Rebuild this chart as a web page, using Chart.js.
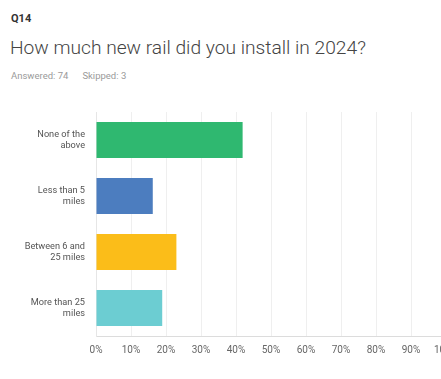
<!DOCTYPE html>
<html>
<head>
<meta charset="utf-8">
<script src="https://cdn.jsdelivr.net/npm/chart.js@4/dist/chart.umd.min.js"></script>
<style>
  html, body { margin: 0; padding: 0; background: #ffffff; overflow: hidden; width: 441px; height: 379px; }
  .q { position: absolute; left: 11px; top: 12px; font-family: Roboto, sans-serif; font-weight: 700; font-size: 11px; color: #333; }
  .title { position: absolute; left: 10px; top: 36px; font-family: Roboto, sans-serif; font-weight: 300; font-size: 19.2px; color: #444; white-space: nowrap; }
  .meta { position: absolute; left: 11px; top: 70px; font-family: Roboto, sans-serif; font-size: 9.5px; color: #9a9a9a; white-space: nowrap; }
  .meta span + span { margin-left: 14px; }
  #wrap { position: absolute; left: 0; top: 90px; width: 470px; height: 289px; }
</style>
</head>
<body>
<div class="q">Q14</div>
<div class="title">How much new rail did you install in 2024?</div>
<div class="meta"><span>Answered: 74</span><span>Skipped: 3</span></div>
<div id="wrap"><canvas id="c" width="470" height="289"></canvas></div>
<script>
const categories = [
  ["None of the", "above"],
  ["Less than 5", "miles"],
  ["Between 6 and", "25 miles"],
  ["More than 25", "miles"]
];
const percentValues = [41.89, 16.22, 22.97, 18.92];
const barColors = ["#2fb870", "#4c7dbf", "#fbbd19", "#6ccdd2"];
const xTicks = [0, 10, 20, 30, 40, 50, 60, 70, 80, 90, 100];

new Chart(document.getElementById("c"), {
  type: "bar",
  data: {
    labels: categories,
    datasets: [{
      data: percentValues,
      backgroundColor: barColors,
      borderWidth: 0,
      categoryPercentage: 0.8,
      barPercentage: 0.8
    }]
  },
  options: {
    indexAxis: "y",
    responsive: false,
    animation: false,
    events: [],
    layout: { padding: { top: 15, right: 24, bottom: 0, left: 0 } },
    plugins: { legend: { display: false }, tooltip: { enabled: false }, title: { display: false } },
    scales: {
      x: {
        min: 0, max: 100,
        afterBuildTicks: (s) => { s.ticks = xTicks.map(v => ({ value: v })); },
        afterFit: (s) => { s.height = 43; },
        grid: { color: "#efefef", drawTicks: false, lineWidth: 1 },
        border: { display: true, color: "#dcdcdc", width: 1 },
        ticks: {
          padding: 8,
          maxRotation: 0,
          autoSkip: false,
          color: "#666",
          font: { family: "Roboto", size: 10 },
          callback: (v) => v + "%"
        }
      },
      y: {
        afterFit: (s) => { s.width = 96; },
        grid: { display: false, drawTicks: false },
        border: { display: true, color: "#e6e6e6", width: 1 },
        ticks: {
          padding: 11,
          color: "#555",
          font: { family: "Roboto", size: 9.2, lineHeight: 1.2 }
        }
      }
    }
  }
});
</script>
</body>
</html>
